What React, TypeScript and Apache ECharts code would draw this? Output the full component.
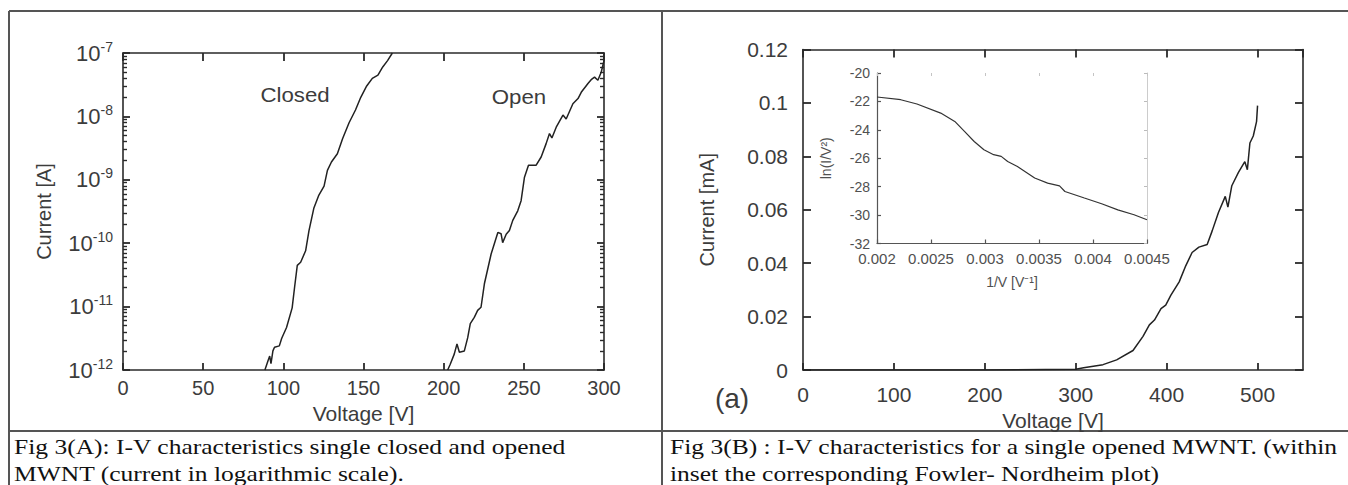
import React, { useEffect, useRef } from 'react';
import * as echarts from 'echarts';

// ---------- data ----------
// Fig 3(A): closed MWNT, voltage [V] and current [A]
const closedVoltage = [88.5, 90.5, 91.5, 92.3, 93.5, 94.5, 97.5, 99, 102, 105.5, 107, 108.7, 110.8, 113.9, 116, 119, 122, 125.4, 127.5, 130, 133.7, 137, 141, 145, 148.3, 152, 155.5, 159, 162, 165, 168];
const closedCurrent = [1.0e-12, 1.41e-12, 1.66e-12, 1.26e-12, 2.0e-12, 2.29e-12, 2.4e-12, 3.16e-12, 4.68e-12, 9.55e-12, 2.0e-11, 4.47e-11, 5.01e-11, 7.59e-11, 1.58e-10, 3.55e-10, 5.62e-10, 7.94e-10, 1.41e-9, 1.91e-9, 2.57e-9, 4.47e-9, 7.94e-9, 1.26e-8, 2.0e-8, 3.02e-8, 3.98e-8, 4.47e-8, 6.03e-8, 7.59e-8, 1.0e-7];

// Fig 3(A): opened MWNT
const openVoltage = [202.5, 204.1, 206.6, 208.3, 209.8, 212.9, 215, 216.6, 219.1, 221.2, 223.3, 225.4, 229.6, 231.6, 233.8, 235.8, 236.8, 239, 241, 243.1, 246.2, 248.3, 250.4, 252.9, 257.7, 260.8, 263.9, 266, 267.5, 270.2, 274.4, 276.4, 280.6, 283.8, 285.8, 290, 292, 294.1, 296.2, 298.3, 300];
const openCurrent = [1.0e-12, 1.23e-12, 1.78e-12, 2.57e-12, 1.91e-12, 2.0e-12, 3.24e-12, 5.37e-12, 6.76e-12, 8.71e-12, 9.77e-12, 2.29e-11, 6.76e-11, 9.77e-11, 1.48e-10, 1.41e-10, 1.02e-10, 1.38e-10, 1.58e-10, 2.29e-10, 3.24e-10, 4.68e-10, 1.1e-9, 1.7e-9, 1.7e-9, 2.29e-9, 3.72e-9, 5.37e-9, 4.57e-9, 6.76e-9, 1.05e-8, 9.12e-9, 1.58e-8, 1.91e-8, 2.4e-8, 3.31e-8, 3.8e-8, 4.17e-8, 3.72e-8, 5.01e-8, 7.59e-8];

// Fig 3(B): single opened MWNT, voltage [V] and current [mA]
const mwntVoltage = [0, 100, 200, 300, 308.7, 330, 345, 363, 374, 381, 386.6, 393.8, 399, 404.7, 413.8, 421, 428, 435.5, 444.6, 450, 457, 464.5, 467.4, 471.7, 479, 486, 488.8, 491.6, 495.3, 498.9, 500];
const mwntCurrent = [0, 0, 0, 0.0003, 0.0008, 0.002, 0.0038, 0.0073, 0.0126, 0.0169, 0.0187, 0.023, 0.0243, 0.028, 0.033, 0.039, 0.044, 0.046, 0.047, 0.052, 0.059, 0.065, 0.061, 0.069, 0.074, 0.078, 0.075, 0.085, 0.0876, 0.093, 0.099];

// Inset: Fowler-Nordheim plot, 1/V [1/V] and ln(I/V^2)
const fnInvVoltage = [0.002, 0.00222, 0.00237, 0.00259, 0.00272, 0.00281, 0.0029, 0.00299, 0.00308, 0.00315, 0.00321, 0.0033, 0.00346, 0.00358, 0.00369, 0.00374, 0.00392, 0.00408, 0.00423, 0.00438, 0.0045];
const fnLog = [-21.69, -21.88, -22.18, -22.82, -23.41, -24.11, -24.82, -25.4, -25.75, -25.87, -26.23, -26.58, -27.39, -27.75, -27.94, -28.34, -28.8, -29.2, -29.63, -29.98, -30.33];

// tick labels / axis texts
const logDecades = [-12, -11, -10, -9, -8, -7];
const minorMultipliers = [2, 3, 4, 5, 6, 7, 8, 9];
const captionA = ['Fig 3(A): I-V characteristics single closed and opened', 'MWNT (current in logarithmic scale).'];
const captionB = ['Fig 3(B) : I-V characteristics for a single opened MWNT. (within', 'inset the corresponding Fowler- Nordheim plot)'];

const SANS = '"Liberation Sans", Arial, Helvetica, sans-serif';
const SERIF = '"Liberation Serif", "Times New Roman", serif';
const AXIS = '#2a2a2a';
const LABEL = '#3c3c3c';
const CURVE = '#222222';

const zip = (a: number[], b: number[]) => a.map((v, i) => [v, b[i]]);

// minor log tick positions in log10 space (for the overlay value axes)
const minorLogTicks: number[] = [];
logDecades.slice(0, -1).forEach((d) => {
  minorMultipliers.forEach((m) => minorLogTicks.push(d + Math.log10(m)));
});

export default function App() {
  const ref = useRef<HTMLDivElement>(null);

  useEffect(() => {
    document.body.style.margin = '0';
    const chart = echarts.init(ref.current!, null, { renderer: 'svg' });

    const tick = (length: number, color = AXIS, width = 1.8, extra: any = {}) => ({
      show: true, inside: true, length, lineStyle: { color, width }, ...extra,
    });
    const line = (color = AXIS, width = 1.6) => ({ show: true, onZero: false, lineStyle: { color, width } });

    const caption = (text: string, x: number, y: number) => ({
      type: 'text', x, y, scaleX: 1.16,
      style: { text, x: 0, y: 0, align: 'left', verticalAlign: 'middle', fontFamily: SERIF, fontSize: 22, fill: '#111' },
    });

    const option: any = {
      animation: false,
      backgroundColor: '#ffffff',
      grid: [
        { left: 123, top: 53, width: 481, height: 317 },
        { left: 803, top: 49.5, width: 500, height: 320.5 },
        { left: 877, top: 73, width: 270, height: 170.5 },
      ],
      xAxis: [
        {
          gridIndex: 0, type: 'value', min: 0, max: 300, interval: 50, position: 'bottom',
          axisLine: line(), axisTick: tick(7),
          axisLabel: { fontFamily: SANS, fontSize: 20, color: LABEL, margin: 8 },
          splitLine: { show: false },
          name: 'Voltage [V]', nameLocation: 'middle', nameGap: 33,
          nameTextStyle: { fontFamily: SANS, fontSize: 21, color: LABEL },
        },
        {
          gridIndex: 0, type: 'value', min: 0, max: 300, interval: 50, position: 'top',
          axisLine: line(), axisTick: tick(8),
          axisLabel: { show: false }, splitLine: { show: false },
        },
        {
          gridIndex: 1, type: 'value', min: 0, max: 550, interval: 100, position: 'bottom',
          axisLine: line(), axisTick: tick(7),
          axisLabel: { fontFamily: SANS, fontSize: 21, color: LABEL, margin: 14, showMaxLabel: false },
          splitLine: { show: false },
          name: 'Voltage [V]', nameLocation: 'middle', nameGap: 35,
          nameTextStyle: { fontFamily: SANS, fontSize: 21, color: LABEL },
        },
        {
          gridIndex: 1, type: 'value', min: 0, max: 550, interval: 100, position: 'top',
          axisLine: line(), axisTick: tick(8),
          axisLabel: { show: false }, splitLine: { show: false },
        },
        {
          gridIndex: 2, type: 'value', min: 0.002, max: 0.0045, interval: 0.0005, position: 'bottom',
          axisLine: line('#555', 1.2), axisTick: tick(4, '#555', 1.2),
          axisLabel: {
            fontFamily: SANS, fontSize: 15, color: '#505050', margin: 7,
            formatter: (v: number) => String(+v.toFixed(4)),
          },
          splitLine: { show: false },
          name: '1/V [V⁻¹]', nameLocation: 'middle', nameGap: 31,
          nameTextStyle: { fontFamily: SANS, fontSize: 14, color: '#505050' },
        },
        {
          gridIndex: 2, type: 'value', min: 0.002, max: 0.0045, interval: 0.0005, position: 'top',
          axisLine: { show: false, onZero: false }, axisTick: tick(3, '#c4c4c4', 1),
          axisLabel: { show: false }, splitLine: { show: false },
        },
      ],
      yAxis: [
        {
          gridIndex: 0, type: 'log', logBase: 10, min: 1e-12, max: 1e-7, position: 'left',
          axisLine: line(), axisTick: tick(7),
          axisLabel: {
            margin: 10,
            formatter: (v: number) => `{b|10}{e|${Math.round(Math.log10(v))}}`,
            rich: {
              b: { fontFamily: SANS, fontSize: 22, color: LABEL, lineHeight: 27 },
              e: { fontFamily: SANS, fontSize: 14, color: LABEL, lineHeight: 14, verticalAlign: 'top' },
            },
          },
          splitLine: { show: false },
          name: 'Current [A]', nameLocation: 'middle', nameGap: 69,
          nameTextStyle: { fontFamily: SANS, fontSize: 20, color: LABEL },
        },
        {
          gridIndex: 0, type: 'value', min: -12, max: -7, position: 'left',
          axisLine: { show: false, onZero: false }, axisLabel: { show: false }, splitLine: { show: false },
          axisTick: tick(4, AXIS, 1.4, { customValues: minorLogTicks }),
        },
        {
          gridIndex: 0, type: 'log', logBase: 10, min: 1e-12, max: 1e-7, position: 'right',
          axisLine: line(), axisTick: tick(7),
          axisLabel: { show: false }, splitLine: { show: false },
        },
        {
          gridIndex: 0, type: 'value', min: -12, max: -7, position: 'right',
          axisLine: { show: false, onZero: false }, axisLabel: { show: false }, splitLine: { show: false },
          axisTick: tick(4, AXIS, 1.4, { customValues: minorLogTicks }),
        },
        {
          gridIndex: 1, type: 'value', min: 0, max: 0.12, interval: 0.02, position: 'left',
          axisLine: line(), axisTick: tick(8),
          axisLabel: { fontFamily: SANS, fontSize: 21, color: LABEL, margin: 15 },
          splitLine: { show: false },
          name: 'Current [mA]', nameLocation: 'middle', nameGap: 86,
          nameTextStyle: { fontFamily: SANS, fontSize: 20, color: LABEL },
        },
        {
          gridIndex: 1, type: 'value', min: 0, max: 0.12, interval: 0.02, position: 'right',
          axisLine: line(), axisTick: tick(8),
          axisLabel: { show: false }, splitLine: { show: false },
        },
        {
          gridIndex: 2, type: 'value', min: -32, max: -20, interval: 2, position: 'left',
          axisLine: line('#555', 1.2), axisTick: tick(4, '#555', 1.2),
          axisLabel: { fontFamily: SANS, fontSize: 14, color: '#505050', margin: 7 },
          splitLine: { show: false },
          name: 'ln(I/V²)', nameLocation: 'middle', nameGap: 44,
          nameTextStyle: { fontFamily: SANS, fontSize: 14, color: '#505050' },
        },
        {
          gridIndex: 2, type: 'value', min: -32, max: -20, interval: 2, position: 'right',
          axisLine: line('#cccccc', 1), axisTick: tick(3, '#bbbbbb', 1),
          axisLabel: { show: false }, splitLine: { show: false },
        },
      ],
      series: [
        {
          type: 'line', name: 'Closed', xAxisIndex: 0, yAxisIndex: 0,
          data: zip(closedVoltage, closedCurrent), showSymbol: false, symbol: 'none',
          lineStyle: { color: CURVE, width: 1.5 }, clip: true,
        },
        {
          type: 'line', name: 'Open', xAxisIndex: 0, yAxisIndex: 0,
          data: zip(openVoltage, openCurrent), showSymbol: false, symbol: 'none',
          lineStyle: { color: CURVE, width: 1.5 }, clip: true,
        },
        {
          type: 'line', name: 'MWNT', xAxisIndex: 2, yAxisIndex: 4,
          data: zip(mwntVoltage, mwntCurrent), showSymbol: false, symbol: 'none',
          lineStyle: { color: CURVE, width: 1.5 },
        },
        {
          type: 'line', name: 'Fowler-Nordheim', xAxisIndex: 4, yAxisIndex: 6,
          data: zip(fnInvVoltage, fnLog), showSymbol: false, symbol: 'none',
          lineStyle: { color: '#333', width: 1.2 },
        },
      ],
      graphic: [
        // frame lines of the figure table
        { type: 'line', shape: { x1: 9, y1: 11, x2: 1348, y2: 11 }, style: { stroke: '#555', lineWidth: 2 } },
        { type: 'line', shape: { x1: 9, y1: 11, x2: 9, y2: 485 }, style: { stroke: '#555', lineWidth: 2 } },
        { type: 'line', shape: { x1: 662, y1: 11, x2: 662, y2: 485 }, style: { stroke: '#555', lineWidth: 2 } },
        { type: 'line', shape: { x1: 9, y1: 431, x2: 1348, y2: 431 }, style: { stroke: '#555', lineWidth: 2 } },
        // curve labels
        { type: 'text', x: 295, y: 95, scaleX: 1.06, style: { text: 'Closed', x: 0, y: 0, align: 'center', verticalAlign: 'middle', fontFamily: SANS, fontSize: 21, fill: LABEL } },
        { type: 'text', x: 519, y: 97, scaleX: 1.06, style: { text: 'Open', x: 0, y: 0, align: 'center', verticalAlign: 'middle', fontFamily: SANS, fontSize: 21, fill: LABEL } },
        { type: 'text', style: { text: '(a)', x: 732, y: 398, align: 'center', verticalAlign: 'middle', fontFamily: SANS, fontSize: 28, fill: LABEL } },
        // captions
        caption(captionA[0], 14, 447),
        caption(captionA[1], 14, 474),
        caption(captionB[0], 670, 447),
        caption(captionB[1], 670, 474),
      ],
    };

    chart.setOption(option);
    return () => chart.dispose();
  }, []);

  return (
    <div
      ref={ref}
      style={{ position: 'absolute', left: 0, top: 0, width: 1348, height: 485, background: '#fff' }}
    />
  );
}
